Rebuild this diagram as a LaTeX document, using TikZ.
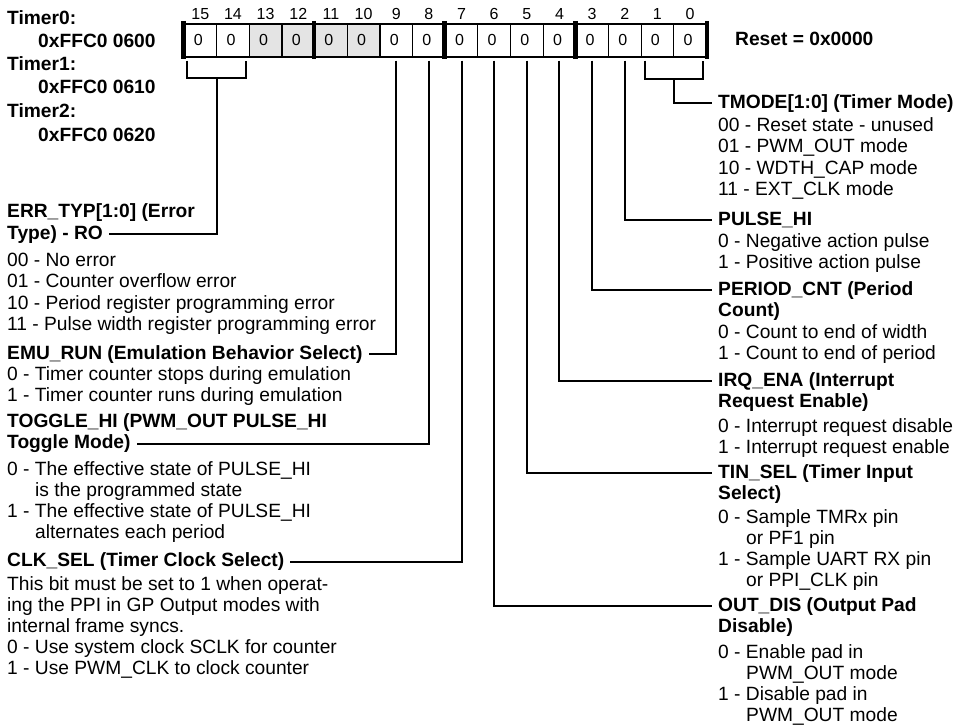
\documentclass[tikz,border=0pt]{standalone}
\usepackage{fontspec}
\setmainfont{Liberation Sans}
\definecolor{regshade}{HTML}{E4E4E4}
\begin{document}
\begin{tikzpicture}[x=1pt,y=-1pt,
  txt/.style={anchor=base west, inner sep=0pt, font=\fontsize{19.2}{21}\selectfont, text height=14pt, text depth=4pt},
  hd/.style={txt, font=\fontsize{19.2}{21}\selectfont\bfseries},
  cell/.style={draw, line width=1.2pt, minimum width=32.65pt, minimum height=33pt, inner sep=0pt, font=\fontsize{16}{18}\selectfont, text height=11.5pt, text depth=1.3pt},
  bitnum/.style={anchor=base, inner sep=0pt, font=\fontsize{16}{18}\selectfont},
  conn/.style={line width=2pt},
  bar/.style={line width=4.8pt},
]
\useasboundingbox (0,0) rectangle (963,724);

% register cells
\foreach \b/\f in {15/white,14/white,13/regshade,12/regshade,11/regshade,10/regshade,9/white,8/white,7/white,6/white,5/white,4/white,3/white,2/white,1/white,0/white}{
  \pgfmathsetmacro\cx{184+(15-\b+0.5)*32.65}
  \node[cell, fill=\f] (c\b) at (\cx,40.5) {\kern-4pt0};
  \node[bitnum] (n\b) at (\cx,19.5) {\b};
}
% group separators
\foreach \a in {c15,c11,c7,c3}{
  \draw[bar] ([yshift=2.5pt]\a.north west) -- ([yshift=-1.5pt]\a.south west);
}
\draw[bar] ([yshift=2.5pt]c0.north east) -- ([yshift=-1.5pt]c0.south east);

% address labels
\node[hd] (t0a) at (7,24) {Timer0:};
\node[hd] (t0b) at (38,47) {0xFFC0 0600};
\node[hd] (t1a) at (7,70.5) {Timer1:};
\node[hd] (t1b) at (38,93.5) {0xFFC0 0610};
\node[hd] (t2a) at (7,117.5) {Timer2:};
\node[hd] (t2b) at (38,141) {0xFFC0 0620};
\node[hd] (rst) at (735,45) {Reset = 0x0000};

% left column
\node[hd] (errH1) at (7,217.5) {ERR\_TYP[1:0] (Error};
\node[hd] (errH2) at (7,239) {Type) - RO};
\node[txt] (err1) at (7,266) {00 - No error};
\node[txt] (err2) at (7,287.5) {01 - Counter overflow error};
\node[txt] (err3) at (7,309) {10 - Period register programming error};
\node[txt] (err4) at (7,330) {11 - Pulse width register programming error};

\node[hd] (emuH) at (7,359) {EMU\_RUN (Emulation Behavior Select)};
\node[txt] (emu1) at (7,380.5) {0 - Timer counter stops during emulation};
\node[txt] (emu2) at (7,401.5) {1 - Timer counter runs during emulation};

\node[hd] (togH1) at (7,427) {TOGGLE\_HI (PWM\_OUT PULSE\_HI};
\node[hd] (togH2) at (7,448.5) {Toggle Mode)};
\node[txt] (tog1) at (7,475) {0 - The effective state of PULSE\_HI};
\node[txt] (tog2) at (35,496) {is the programmed state};
\node[txt] (tog3) at (7,517) {1 - The effective state of PULSE\_HI};
\node[txt] (tog4) at (35,538.5) {alternates each period};

\node[hd] (clkH) at (7,566.5) {CLK\_SEL (Timer Clock Select)};
\node[txt] (clk1) at (7,590) {This bit must be set to 1 when operat-};
\node[txt] (clk2) at (7,611) {ing the PPI in GP Output modes with};
\node[txt] (clk3) at (7,632) {internal frame syncs.};
\node[txt] (clk4) at (7,653) {0 - Use system clock SCLK for counter};
\node[txt] (clk5) at (7,674) {1 - Use PWM\_CLK to clock counter};

% right column
\node[hd] (tmodeH) at (718,108) {TMODE[1:0] (Timer Mode)};
\node[txt] (tm1) at (718,131.5) {00 - Reset state - unused};
\node[txt] (tm2) at (718,152.5) {01 - PWM\_OUT mode};
\node[txt] (tm3) at (718,174) {10 - WDTH\_CAP mode};
\node[txt] (tm4) at (718,195) {11 - EXT\_CLK mode};

\node[hd] (pulH) at (718,225) {PULSE\_HI};
\node[txt] (pul1) at (718,247) {0 - Negative action pulse};
\node[txt] (pul2) at (718,268) {1 - Positive action pulse};

\node[hd] (perH1) at (718,295) {PERIOD\_CNT (Period};
\node[hd] (perH2) at (718,316.5) {Count)};
\node[txt] (per1) at (718,338) {0 - Count to end of width};
\node[txt] (per2) at (718,359) {1 - Count to end of period};

\node[hd] (irqH1) at (718,386) {IRQ\_ENA (Interrupt};
\node[hd] (irqH2) at (718,407) {Request Enable)};
\node[txt] (irq1) at (718,432) {0 - Interrupt request disable};
\node[txt] (irq2) at (718,453) {1 - Interrupt request enable};

\node[hd] (tinH1) at (718,478) {TIN\_SEL (Timer Input};
\node[hd] (tinH2) at (718,499.5) {Select)};
\node[txt] (tin1) at (718,523) {0 - Sample TMRx pin};
\node[txt] (tin2) at (746,544) {or PF1 pin};
\node[txt] (tin3) at (718,565) {1 - Sample UART RX pin};
\node[txt] (tin4) at (746,586) {or PPI\_CLK pin};

\node[hd] (outH1) at (718,611) {OUT\_DIS (Output Pad};
\node[hd] (outH2) at (718,632.5) {Disable)};
\node[txt] (out1) at (718,658) {0 - Enable pad in};
\node[txt] (out2) at (746,679.5) {PWM\_OUT mode};
\node[txt] (out3) at (718,700.5) {1 - Disable pad in};
\node[txt] (out4) at (746,721) {PWM\_OUT mode};

% connectors
\coordinate (bErr) at ([yshift=-20pt]c15.south east);
\draw[conn] ([xshift=4pt,yshift=-3pt]c15.south west) |- (bErr) -| ([xshift=-4pt,yshift=-3pt]c14.south east);
\draw[conn] (bErr) |- ([xshift=6pt]errH2.east);

\coordinate (bTm) at ([yshift=-21pt]c1.south east);
\draw[conn] ([xshift=4pt,yshift=-3pt]c1.south west) |- (bTm) -| ([xshift=-4pt,yshift=-3pt]c0.south east);
\draw[conn] (bTm) |- ([xshift=-6pt]tmodeH.west);

\draw[conn] ([yshift=-3pt]c9.south) |- ([xshift=6pt]emuH.east);
\draw[conn] ([yshift=-3pt]c8.south) |- ([xshift=6pt]togH2.east);
\draw[conn] ([yshift=-3pt]c7.south) |- ([xshift=6pt]clkH.east);
\draw[conn] ([yshift=-3pt]c6.south) |- ([xshift=-6pt]outH1.west);
\draw[conn] ([yshift=-3pt]c5.south) |- ([xshift=-6pt]tinH1.west);
\draw[conn] ([yshift=-3pt]c4.south) |- ([xshift=-6pt]irqH1.west);
\draw[conn] ([yshift=-3pt]c3.south) |- ([xshift=-6pt]perH1.west);
\draw[conn] ([yshift=-3pt]c2.south) |- ([xshift=-6pt]pulH.west);
\end{tikzpicture}
\end{document}
